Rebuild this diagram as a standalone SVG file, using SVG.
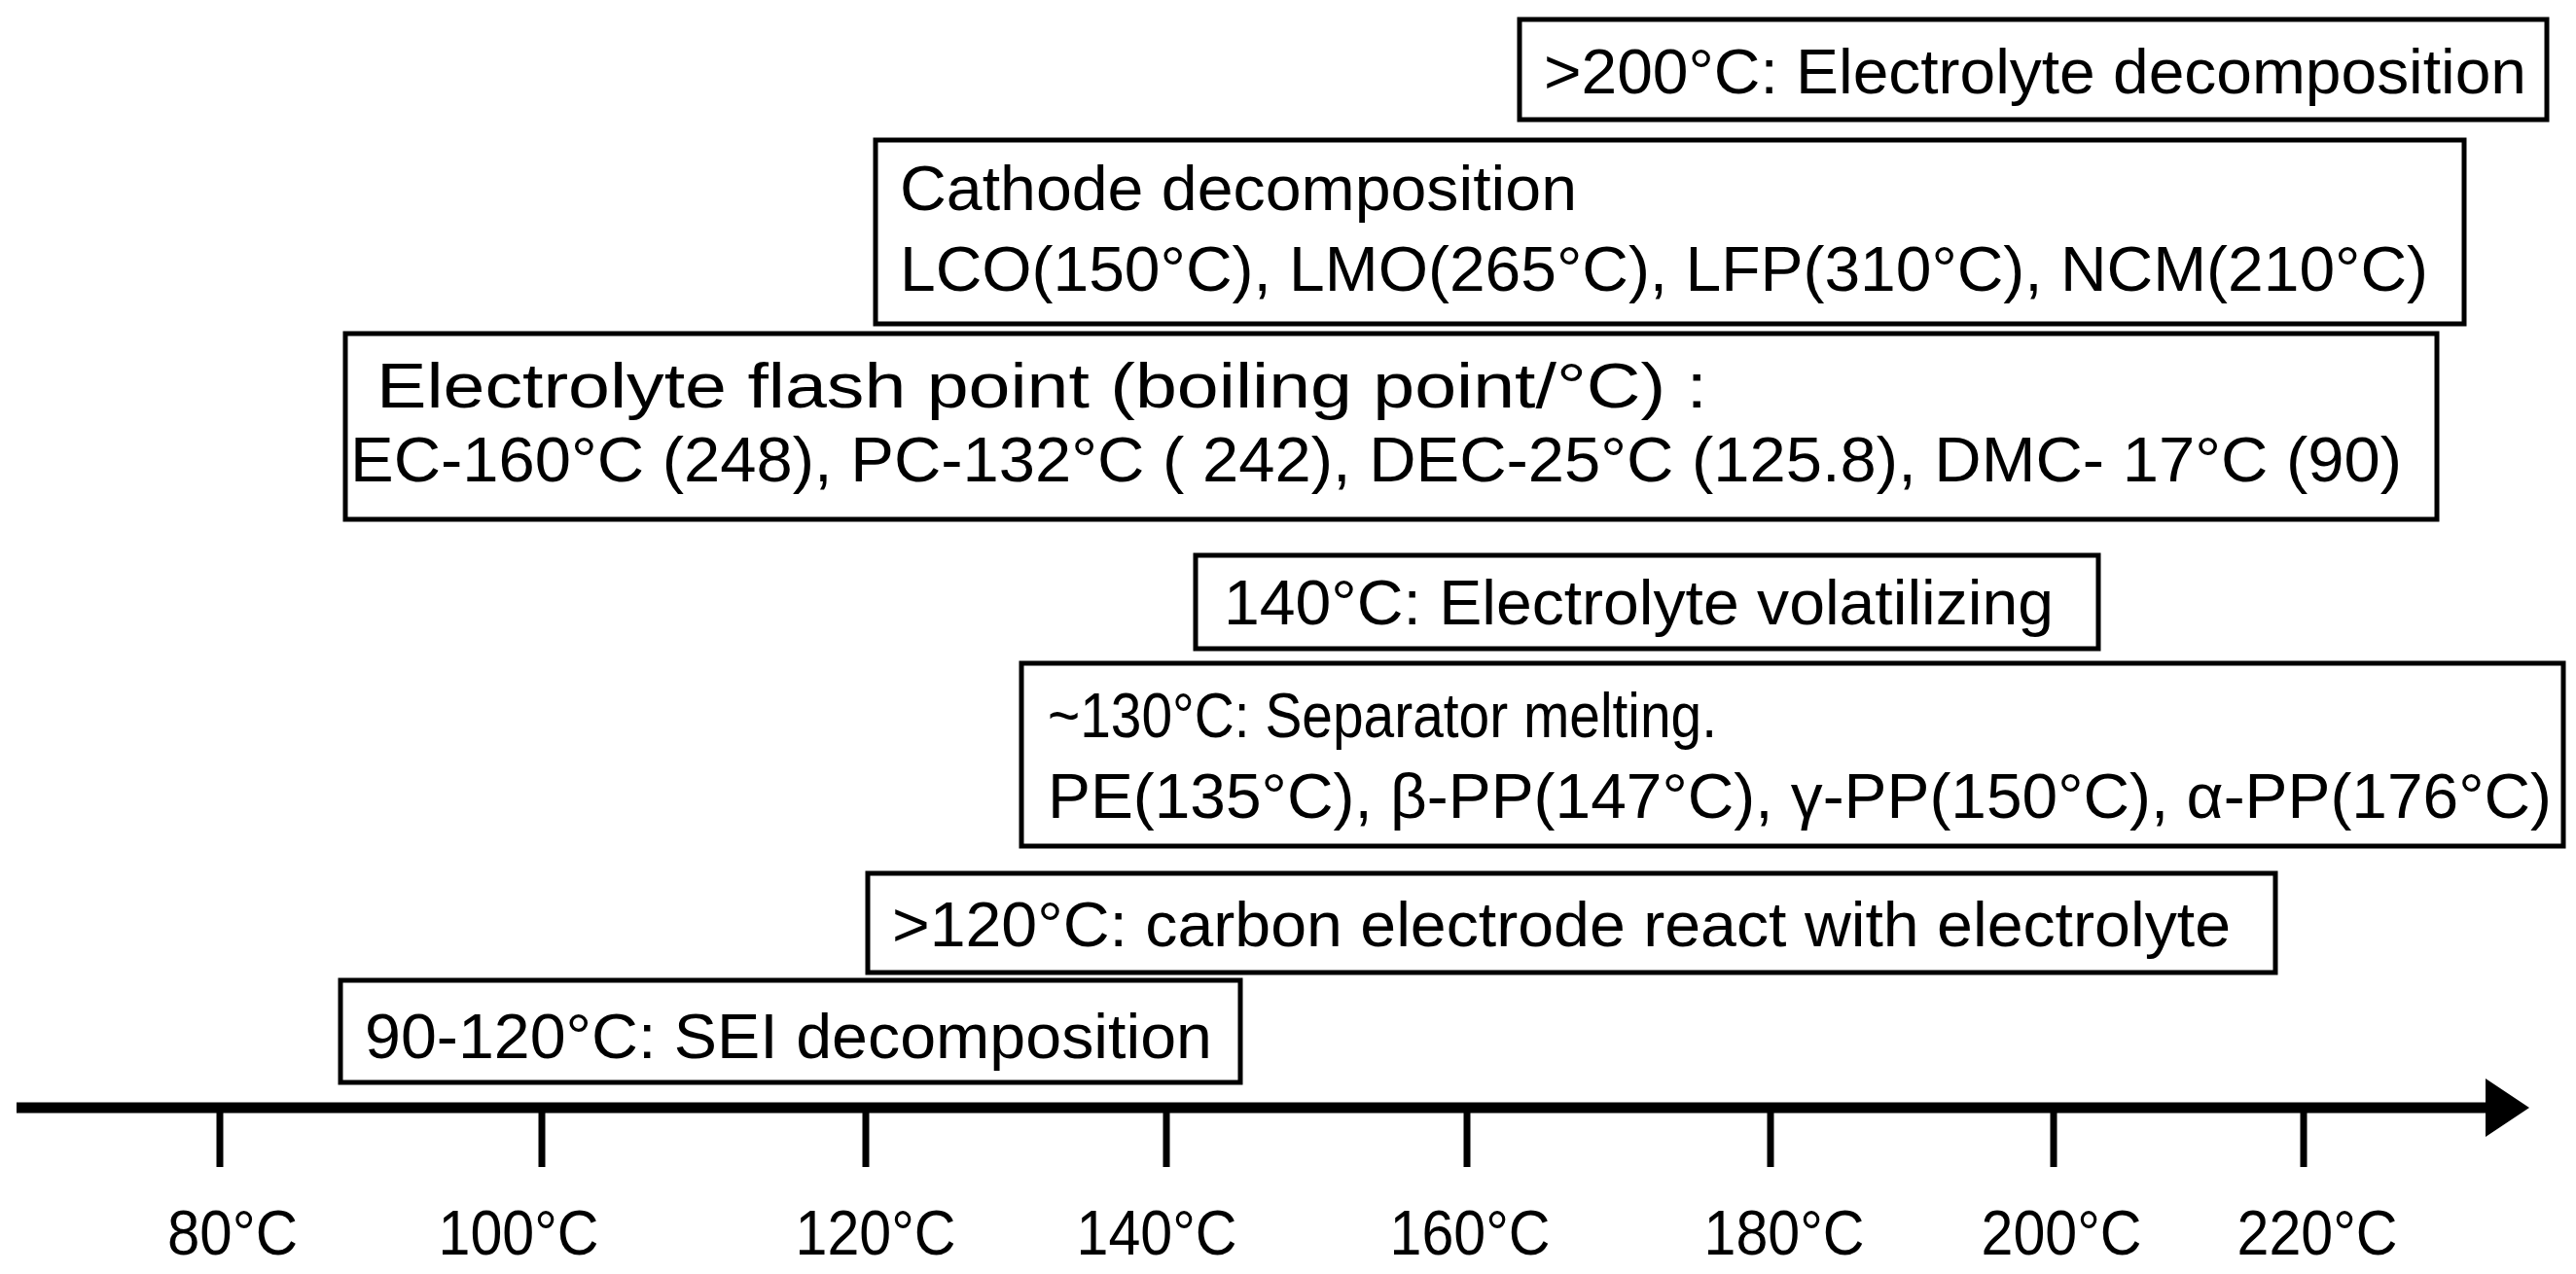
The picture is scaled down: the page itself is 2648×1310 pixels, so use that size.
<svg xmlns="http://www.w3.org/2000/svg" width="2648" height="1310" viewBox="0 0 2648 1310">
<style>
.box{fill:#fff;stroke:#000;stroke-width:5}
.t{font-family:"Liberation Sans",Arial,sans-serif;font-size:64px;fill:#000}
.lab{font-family:"Liberation Sans",Arial,sans-serif;font-size:64px;fill:#000;text-anchor:middle}
.tick{stroke:#000;stroke-width:7}
</style>
<rect width="2648" height="1310" fill="#fff"/>
<g id="connectors">
<line x1="17" y1="1139" x2="2560" y2="1139" stroke="#000" stroke-width="11"/>
<polygon points="2555,1109 2600,1139 2555,1169" fill="#000"/>
<line class="tick" x1="226" y1="1139" x2="226" y2="1200"/>
<line class="tick" x1="557" y1="1139" x2="557" y2="1200"/>
<line class="tick" x1="890" y1="1139" x2="890" y2="1200"/>
<line class="tick" x1="1199" y1="1139" x2="1199" y2="1200"/>
<line class="tick" x1="1508" y1="1139" x2="1508" y2="1200"/>
<line class="tick" x1="1820" y1="1139" x2="1820" y2="1200"/>
<line class="tick" x1="2111" y1="1139" x2="2111" y2="1200"/>
<line class="tick" x1="2368" y1="1139" x2="2368" y2="1200"/>
</g>
<g id="axis-labels">
<text class="lab" x="239" y="1290" textLength="134" lengthAdjust="spacingAndGlyphs">80°C</text>
<text class="lab" x="533" y="1290" textLength="165" lengthAdjust="spacingAndGlyphs">100°C</text>
<text class="lab" x="900" y="1290" textLength="165" lengthAdjust="spacingAndGlyphs">120°C</text>
<text class="lab" x="1189" y="1290" textLength="165" lengthAdjust="spacingAndGlyphs">140°C</text>
<text class="lab" x="1511" y="1290" textLength="165" lengthAdjust="spacingAndGlyphs">160°C</text>
<text class="lab" x="1834" y="1290" textLength="165" lengthAdjust="spacingAndGlyphs">180°C</text>
<text class="lab" x="2119" y="1290" textLength="165" lengthAdjust="spacingAndGlyphs">200°C</text>
<text class="lab" x="2382" y="1290" textLength="165" lengthAdjust="spacingAndGlyphs">220°C</text>
</g>
<g id="n1">
<rect class="box" x="1562" y="20" width="1056" height="103"/>
<text class="t" x="1587" y="96" textLength="1010" lengthAdjust="spacingAndGlyphs">&gt;200°C: Electrolyte decomposition</text>
</g>
<g id="n2">
<rect class="box" x="900" y="144" width="1633" height="189"/>
<text class="t" x="925" y="216" textLength="696" lengthAdjust="spacingAndGlyphs">Cathode decomposition</text>
<text class="t" x="925" y="299" textLength="1571" lengthAdjust="spacingAndGlyphs">LCO(150°C), LMO(265°C), LFP(310°C), NCM(210°C)</text>
</g>
<g id="n3">
<rect class="box" x="355" y="343" width="2150" height="191"/>
<text class="t" x="387" y="419" textLength="1368" lengthAdjust="spacingAndGlyphs">Electrolyte flash point (boiling point/°C) :</text>
<text class="t" x="360" y="495" textLength="2109" lengthAdjust="spacingAndGlyphs">EC-160°C (248), PC-132°C ( 242), DEC-25°C (125.8), DMC- 17°C (90)</text>
</g>
<g id="n4">
<rect class="box" x="1229" y="571" width="928" height="96"/>
<text class="t" x="1258" y="642" textLength="853" lengthAdjust="spacingAndGlyphs">140°C: Electrolyte volatilizing</text>
</g>
<g id="n5">
<rect class="box" x="1050" y="682" width="1585" height="188"/>
<text class="t" x="1077" y="758" textLength="688" lengthAdjust="spacingAndGlyphs">~130°C: Separator melting.</text>
<text class="t" x="1077" y="841" textLength="1546" lengthAdjust="spacingAndGlyphs">PE(135°C), β-PP(147°C), γ-PP(150°C), α-PP(176°C)</text>
</g>
<g id="n6">
<rect class="box" x="892" y="898" width="1447" height="102"/>
<text class="t" x="917" y="973" textLength="1376" lengthAdjust="spacingAndGlyphs">&gt;120°C: carbon electrode react with electrolyte</text>
</g>
<g id="n7">
<rect class="box" x="350" y="1008" width="925" height="105"/>
<text class="t" x="375" y="1088" textLength="871" lengthAdjust="spacingAndGlyphs">90-120°C: SEI decomposition</text>
</g>
</svg>
